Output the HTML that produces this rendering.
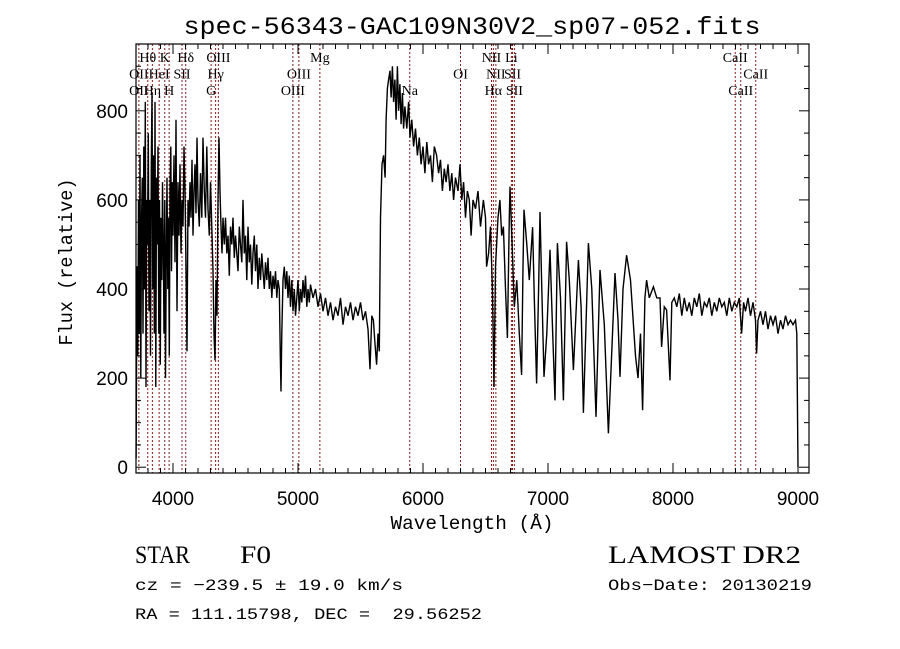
<!DOCTYPE html>
<html><head><meta charset="utf-8"><style>
html,body{margin:0;padding:0;background:#fff;width:900px;height:649px;overflow:hidden}
svg{display:block}
text{white-space:pre}
</style></head><body>
<svg id="chart" width="900" height="649" viewBox="0 0 900 649" xmlns="http://www.w3.org/2000/svg">
<rect width="900" height="649" fill="#fff"/>
<text x="472" y="34" text-anchor="middle" font-family="Liberation Mono, monospace" font-size="25" textLength="577" lengthAdjust="spacingAndGlyphs">spec-56343-GAC109N30V2_sp07-052.fits</text>
<g id="lines"></g>
<g id="series"></g>
<g id="axes"></g>
<text x="472" y="529" text-anchor="middle" font-family="Liberation Mono, monospace" font-size="19" textLength="163" lengthAdjust="spacingAndGlyphs">Wavelength (Å)</text>
<text transform="translate(72,262) rotate(-90)" text-anchor="middle" font-family="Liberation Mono, monospace" font-size="19" textLength="167" lengthAdjust="spacingAndGlyphs">Flux (relative)</text>
<g font-family="Liberation Serif, serif" font-size="25">
<text x="135" y="563" textLength="55" lengthAdjust="spacingAndGlyphs">STAR</text>
<text x="240" y="563" textLength="31" lengthAdjust="spacingAndGlyphs">F0</text>
<text x="608" y="563" textLength="193" lengthAdjust="spacingAndGlyphs">LAMOST DR2</text>
</g>
<g font-family="Liberation Mono, monospace" font-size="16">
<text x="135" y="590" textLength="268" lengthAdjust="spacingAndGlyphs">cz = −239.5 ± 19.0 km/s</text>
<text x="608" y="590" textLength="204" lengthAdjust="spacingAndGlyphs">Obs−Date: 20130219</text>
<text x="135" y="619" textLength="347" lengthAdjust="spacingAndGlyphs" xml:space="preserve">RA = 111.15798, DEC =  29.56252</text>
</g>
</svg>
<script>
const wave = [3705,3712,3718,3724,3730,3736,3742,3748,3754,3760,3766,3772,3778,3784,3790,3796,3802,3808,3814,3820,3826,3832,3838,3844,3850,3856,3862,3868,3874,3880,3886,3892,3898,3904,3910,3916,3922,3928,3934,3940,3946,3952,3958,3964,3970,3976,3982,3988,3994,4000,4008,4016,4024,4032,4040,4048,4056,4064,4072,4080,4088,4096,4104,4112,4120,4128,4136,4144,4152,4160,4168,4176,4184,4192,4200,4210,4220,4230,4240,4250,4260,4270,4280,4290,4300,4310,4320,4328,4336,4344,4352,4360,4368,4376,4384,4392,4400,4410,4420,4430,4440,4450,4460,4470,4480,4490,4500,4510,4520,4530,4540,4550,4560,4570,4580,4590,4600,4610,4620,4630,4640,4650,4660,4670,4680,4690,4700,4710,4720,4730,4740,4750,4760,4770,4780,4790,4800,4810,4820,4830,4840,4850,4858,4864,4870,4880,4890,4900,4910,4920,4930,4940,4950,4960,4970,4980,4990,5000,5010,5020,5030,5040,5050,5060,5070,5080,5090,5100,5120,5140,5160,5180,5200,5220,5240,5260,5280,5300,5320,5340,5360,5380,5400,5420,5440,5460,5480,5500,5520,5540,5560,5576,5590,5603,5615,5629,5640,5650,5660,5672,5685,5697,5705,5715,5725,5736,5745,5755,5765,5775,5785,5795,5805,5815,5825,5835,5845,5855,5870,5885,5896,5910,5925,5940,5955,5970,5985,6000,6015,6030,6045,6060,6075,6090,6109,6125,6140,6155,6170,6185,6200,6215,6230,6245,6260,6280,6296,6310,6325,6340,6355,6370,6385,6400,6420,6440,6460,6483,6500,6509,6525,6540,6555,6568,6580,6600,6615,6630,6643,6660,6675,6690,6696,6710,6730,6750,6770,6789,6800,6808,6830,6850,6877,6890,6909,6925,6936,6950,6968,6990,7016,7035,7056,7075,7100,7123,7149,7170,7203,7243,7265,7283,7323,7350,7384,7416,7450,7483,7536,7560,7576,7600,7629,7660,7700,7720,7740,7757,7775,7789,7810,7843,7870,7896,7909,7930,7949,7976,7990,8010,8030,8050,8070,8090,8110,8130,8150,8170,8190,8210,8230,8250,8270,8290,8310,8330,8350,8370,8390,8410,8430,8450,8470,8490,8510,8530,8549,8565,8580,8600,8620,8640,8660,8669,8680,8700,8720,8740,8760,8780,8800,8820,8840,8860,8880,8900,8920,8940,8960,8980,8990,9000];
const flux = [20,450,250,600,300,700,200,550,650,300,720,400,820,180,600,500,750,350,600,250,680,840,400,700,300,820,180,650,500,720,300,600,230,560,420,640,500,300,600,200,480,650,400,560,250,620,720,440,640,520,700,460,780,350,640,520,680,480,600,540,720,620,450,260,600,540,640,560,690,520,620,680,570,740,600,540,660,560,740,620,560,720,580,520,640,540,440,300,240,420,340,600,740,620,540,480,560,500,560,480,520,430,540,500,560,470,520,480,440,540,500,460,600,480,520,420,540,460,500,410,480,520,440,500,400,470,420,480,440,400,460,420,470,400,440,380,430,400,440,380,420,400,250,170,300,420,450,400,440,380,430,360,420,350,400,340,380,420,350,400,370,420,380,430,360,400,370,410,380,400,360,390,350,380,340,370,330,360,340,380,320,360,340,370,330,360,340,370,330,350,310,220,340,330,280,230,300,260,560,680,700,650,780,850,870,890,830,900,820,870,780,900,800,860,770,840,760,810,760,820,740,780,720,760,700,740,680,720,660,730,680,700,640,720,700,660,690,620,670,640,680,620,660,600,650,620,680,600,640,560,620,600,520,600,580,620,540,600,560,450,480,540,400,180,450,560,600,520,540,400,290,560,630,520,360,420,300,207,450,578,500,420,539,380,188,400,573,400,203,300,488,320,150,503,380,150,506,420,218,465,360,122,503,400,113,443,320,76,436,330,203,400,476,420,250,200,300,128,380,420,380,405,380,380,270,360,353,195,370,380,360,390,340,380,350,370,340,380,360,390,340,370,360,380,340,370,350,380,360,370,340,380,350,370,360,380,300,370,350,380,340,370,330,255,330,350,320,350,310,340,320,340,300,330,310,340,320,330,320,330,300,0];
const lineWaves = [3727,3798,3835,3889,3934,3969,4072,4102,4305,4341,4363,4959,5007,5175,5894,6300,6548,6563,6583,6707,6716,6731,8498,8542,8662];
const lineLabels = [["OII",3727,3],["OII",3727,2],["Hθ",3798,1],["Hη",3835,3],["HeI",3889,2],["K",3934,1],["H",3969,3],["SII",4072,2],["Hδ",4102,1],["G",4305,3],["Hγ",4341,2],["OIII",4363,1],["OIII",4959,3],["OIII",5007,2],["Mg",5175,1],["Na",5894,3],["OI",6300,2],["NII",6548,1],["Hα",6563,3],["NII",6583,2],["Li",6707,1],["SII",6716,2],["SII",6731,3],["CaII",8498,1],["CaII",8542,3],["CaII",8662,2]];
const xTicks = [4000,5000,6000,7000,8000,9000];
const yTicks = [0,200,400,600,800];

const NS="http://www.w3.org/2000/svg";
const L=136,R=809,T=44,B=473;
const X0=3704,X1=9088,Y0=-13,Y1=950;
const sx=w=>L+(w-X0)/(X1-X0)*(R-L);
const sy=v=>B-(v-Y0)/(Y1-Y0)*(B-T);
function mk(tag,attrs,parent){const e=document.createElementNS(NS,tag);for(const k in attrs)e.setAttribute(k,attrs[k]);parent.appendChild(e);return e;}
const gl=document.getElementById('lines'),gs=document.getElementById('series'),ga=document.getElementById('axes');
lineWaves.forEach(w=>{
  const e=mk('line',{x1:sx(w),x2:sx(w),y1:T,y2:B,stroke:'#8b1a1a','stroke-width':1,'stroke-dasharray':'2,2'},gl);
  
  
});
lineLabels.forEach(l=>{
  const t=mk('text',{x:sx(l[1]),y:T+18+(l[2]-1)*16.5,'text-anchor':'middle','font-family':'Liberation Serif, serif','font-size':14},gl);
  t.textContent=l[0];
  
  
});
let d='';
wave.forEach((w,i)=>{d+=(i?'L':'M')+sx(w).toFixed(1)+','+sy(flux[i]).toFixed(1);});
const p=mk('path',{d:d,fill:'none',stroke:'#000','stroke-width':1.4,'stroke-linejoin':'miter'},gs);


const fr=mk('rect',{x:L,y:T,width:R-L,height:B-T,fill:'none',stroke:'#000','stroke-width':1.2},ga);


for(let w=3800;w<=9000;w+=100){
  const major=w%1000===0,len=major?10:5;
  mk('line',{x1:sx(w),x2:sx(w),y1:B,y2:B-len,stroke:'#000'},ga);
  mk('line',{x1:sx(w),x2:sx(w),y1:T,y2:T+len,stroke:'#000'},ga);
}
for(let v=0;v<=900;v+=50){
  const major=v%200===0,len=major?10:5;
  mk('line',{x1:L,x2:L+len,y1:sy(v),y2:sy(v),stroke:'#000'},ga);
  mk('line',{x1:R,x2:R-len,y1:sy(v),y2:sy(v),stroke:'#000'},ga);
}
xTicks.forEach(w=>{
  const t=mk('text',{x:sx(w),y:505,'text-anchor':'middle','font-family':'Liberation Sans, sans-serif','font-size':19},ga);
  t.textContent=w;
  
  
});
yTicks.forEach(v=>{
  const t=mk('text',{x:128,y:sy(v)+7,'text-anchor':'end','font-family':'Liberation Sans, sans-serif','font-size':19},ga);
  t.textContent=v;
  
  
});
</script>
</body></html>
